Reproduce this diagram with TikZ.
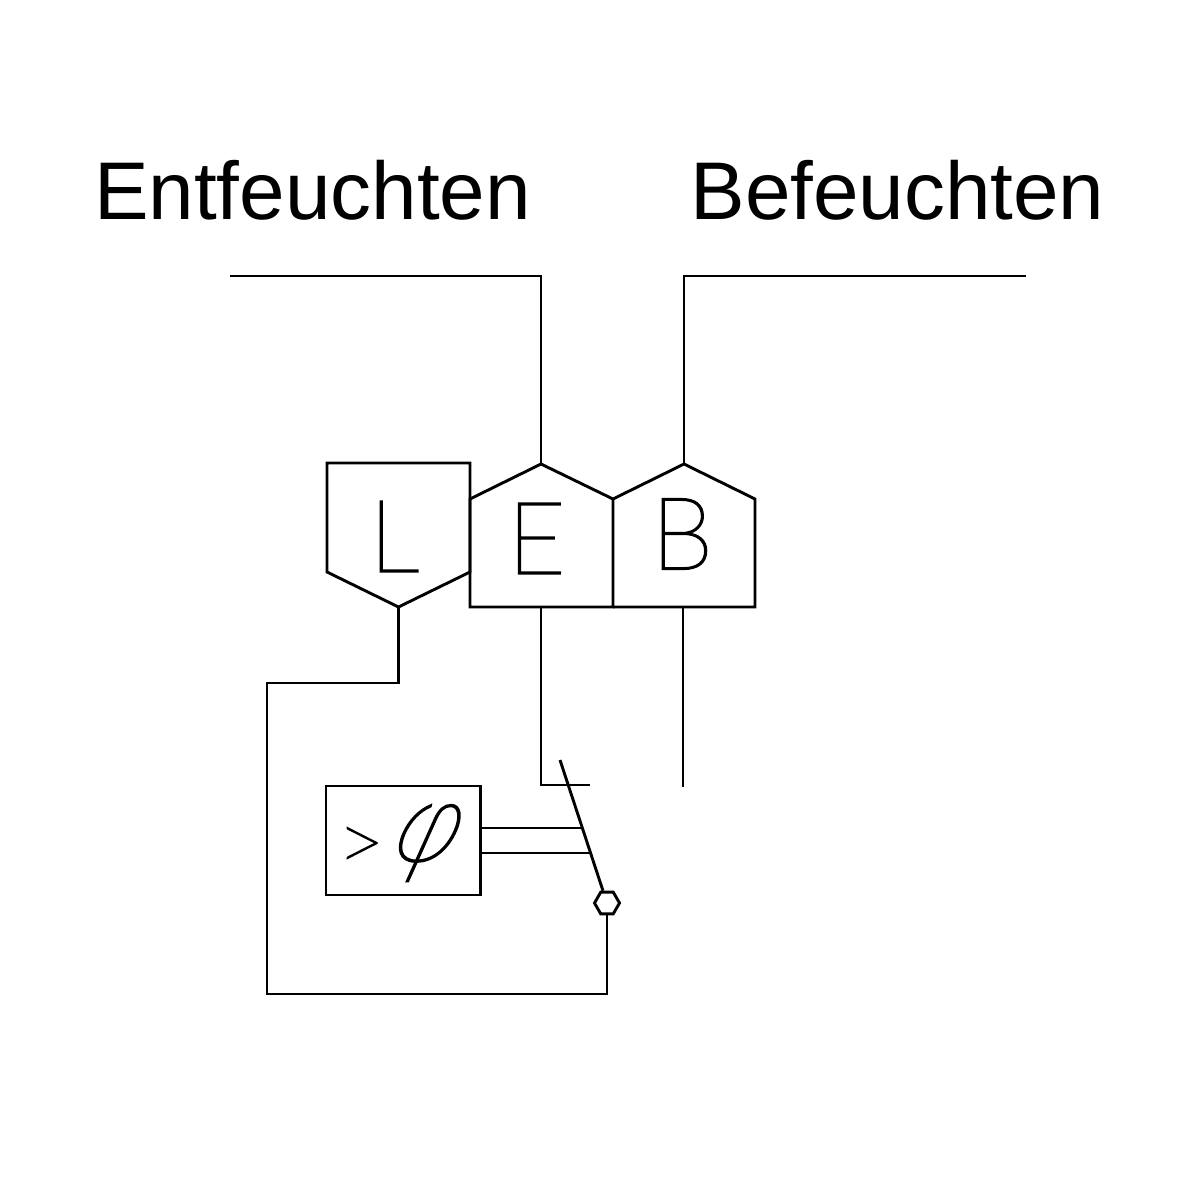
\documentclass[tikz,border=0pt]{standalone}
\usepackage{fontspec}
\setmainfont{Liberation Sans}
\newfontfamily\thinfont[FakeBold=2]{Lato Hairline}
\newfontfamily\phifont[FakeBold=2,FakeSlant=0.45,FakeStretch=0.85]{Lato Hairline}
\usetikzlibrary{shapes.geometric}

\begin{document}
\begin{tikzpicture}[x=0.01cm,y=-0.01cm,line width=0.029cm,line join=miter,
  title/.style={inner sep=0pt,font=\fontsize{23.27}{28}\selectfont},
  letter/.style={inner sep=0pt,font=\thinfont\fontsize{28.5}{32}\selectfont},
  contact/.style={draw,regular polygon,regular polygon sides=6,minimum size=0.25cm,inner sep=0pt}]
  \useasboundingbox (0,0) rectangle (1200,1200);
  % labels
  \node[title] (entf) at (312.5,190) {Entfeuchten};
  \node[title] (bef) at (897.5,190) {Befeuchten};
  % pentagons
  \coordinate (ltl) at (327,463);
  \coordinate (ltr) at (470,463);
  \coordinate (lbr) at (470,572);
  \coordinate (lb) at (398.5,607);
  \coordinate (lbl) at (327,572);
  \coordinate (et) at (541,464);
  \coordinate (etl) at (470,499);
  \coordinate (etr) at (613,499);
  \coordinate (ebl) at (470,607);
  \coordinate (ebr) at (613,607);
  \coordinate (bt) at (684,464);
  \coordinate (btr) at (755,499);
  \coordinate (bbr) at (755,607);
  \draw (ltl) -- (ltr) -- (lbr) -- (lb) -- (lbl) -- cycle;
  \draw (ebl) -- (etl) -- (et) -- (etr) -- (ebr) -- cycle;
  \draw (etr) -- (bt) -- (btr) -- (bbr) -- (ebr);
  \node[letter] (lL) at (394,536.5) {L};
  \node[letter] (lE) at (536.5,538.5) {E};
  \node[letter] (lB) at (682,534) {B};
  % input wires
  \coordinate (ein) at (230,276);
  \coordinate (bin) at (1026,276);
  \draw (ein) -| (et);
  \draw (bin) -| (bt);
  % relay
  \node[draw,minimum width=1.54cm,minimum height=1.09cm,inner sep=0pt] (relay) at (403,840.5) {};
  \node[inner sep=0pt,anchor=base west] (sign) at (336,861)
    {\raisebox{-2.6pt}{\thinfont\fontsize{23}{28}\selectfont >}\kern0.28pt{\phifont\fontsize{32}{36}\selectfont φ}};
  % switch
  \node[contact] (pivot) at (607,903) {};
  \coordinate (stop) at (560,760);
  \coordinate (sw1) at (582,828);
  \coordinate (sw2) at (590,853);
  \coordinate (ew) at (541,607);
  \coordinate (ee) at (590,785);
  \coordinate (bw) at (683,607);
  \coordinate (be) at (683,787);
  \draw (stop) -- (pivot);
  \draw (relay.east |- sw1) -- (sw1);
  \draw (relay.east |- sw2) -- (sw2);
  \draw (ew) |- (ee);
  \draw (bw) -- (be);
  % return wire
  \coordinate (lw) at (267,683);
  \coordinate (rw) at (267,994);
  \draw (lb) |- (lw) -- (rw) -| (pivot.south);
\end{tikzpicture}
\end{document}
